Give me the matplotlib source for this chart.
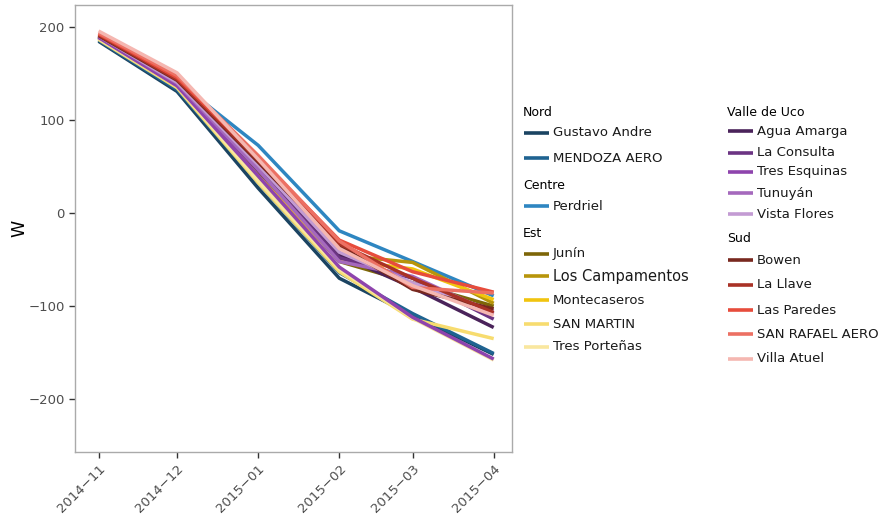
import matplotlib
matplotlib.use("Agg")
import matplotlib.pyplot as plt
from matplotlib.lines import Line2D
import numpy as np
import datetime as dt

months = ["2014-11", "2014-12", "2015-01", "2015-02", "2015-03", "2015-04"]

groups = ["Nord", "Centre", "Est", "Valle de Uco", "Sud"]
stations = {
    "Nord": ["Gustavo Andre", "MENDOZA AERO"],
    "Centre": ["Perdriel"],
    "Est": ["Junín", "Los Campamentos", "Montecaseros", "SAN MARTIN", "Tres Porteñas"],
    "Valle de Uco": ["Agua Amarga", "La Consulta", "Tres Esquinas", "Tunuyán", "Vista Flores"],
    "Sud": ["Bowen", "La Llave", "Las Paredes", "SAN RAFAEL AERO", "Villa Atuel"],
}

gustavo_andre = [185, 131, 27, -70, -110, -152]
mendoza_aero = [186, 133, 33, -64, -108, -151]
perdriel = [189, 142, 73, -19, -52, -89]
junin = [190, 140, 45, -52, -75, -100]
los_campamentos = [189, 141, 50, -45, -53, -97]
montecaseros = [188, 138, 40, -50, -60, -93]
san_martin = [187, 135, 33, -63, -114, -135]
tres_portenas = [188, 137, 35, -60, -113, -158]
agua_amarga = [190, 139, 48, -45, -80, -123]
la_consulta = [190, 139, 46, -48, -70, -114]
tres_esquinas = [189, 137, 40, -58, -112, -157]
tunuyan = [191, 140, 47, -52, -68, -108]
vista_flores = [191, 141, 52, -42, -75, -105]
bowen = [191, 143, 55, -35, -82, -103]
la_llave = [192, 144, 57, -33, -70, -107]
las_paredes = [193, 146, 60, -29, -63, -85]
san_rafael_aero = [194, 148, 62, -30, -80, -86]
villa_atuel = [196, 151, 58, -38, -78, -110]

values = {
    "Gustavo Andre": gustavo_andre, "MENDOZA AERO": mendoza_aero, "Perdriel": perdriel,
    "Junín": junin, "Los Campamentos": los_campamentos, "Montecaseros": montecaseros,
    "SAN MARTIN": san_martin, "Tres Porteñas": tres_portenas,
    "Agua Amarga": agua_amarga, "La Consulta": la_consulta, "Tres Esquinas": tres_esquinas,
    "Tunuyán": tunuyan, "Vista Flores": vista_flores,
    "Bowen": bowen, "La Llave": la_llave, "Las Paredes": las_paredes,
    "SAN RAFAEL AERO": san_rafael_aero, "Villa Atuel": villa_atuel,
}

colors = {
    "Gustavo Andre": "#1b4462", "MENDOZA AERO": "#1f6391", "Perdriel": "#2e86c1",
    "Junín": "#7d6608", "Los Campamentos": "#b7950b", "Montecaseros": "#f1c40f",
    "SAN MARTIN": "#f7dc6f", "Tres Porteñas": "#f9e79f",
    "Agua Amarga": "#4a235a", "La Consulta": "#6c3483", "Tres Esquinas": "#8e44ad",
    "Tunuyán": "#a569bd", "Vista Flores": "#c39bd3",
    "Bowen": "#78281f", "La Llave": "#a93226", "Las Paredes": "#e74c3c",
    "SAN RAFAEL AERO": "#ec7063", "Villa Atuel": "#f5b7b1",
}

dates = [dt.datetime.strptime(m + "-01", "%Y-%m-%d") for m in months]

fig = plt.figure(figsize=(8.91, 5.15), dpi=100)
ax = fig.add_axes([75 / 891, 63 / 515, 437 / 891, 447 / 515])

lines = {}
for g in groups:
    for s in stations[g]:
        (ln,) = ax.plot(dates, values[s], color=colors[s], lw=2.5, solid_capstyle="butt")
        lines[s] = ln

ax.set_ylim(-257, 224)
ax.set_xlim(dates[0] - dt.timedelta(days=9), dates[-1] + dt.timedelta(days=7))
ax.set_yticks([-200, -100, 0, 100, 200])
ax.set_xticks(dates)
ax.set_xticklabels([m.replace("-", "\u2212") for m in months])
for lab in ax.get_xticklabels():
    lab.set_rotation(45)
    lab.set_ha("right")
    lab.set_va("top")
    lab.set_rotation_mode("anchor")
ax.tick_params(axis="both", colors="#333333", labelcolor="#4d4d4d", labelsize=9.5, length=4, width=1)
for sp in ax.spines.values():
    sp.set_color("#aaaaaa")
    sp.set_linewidth(1)
ax.set_ylabel("W", fontsize=12.5, color="#000000")
ax.yaxis.set_label_coords(-47 / 437, 0.5)

# legend (grouped, two columns)
W, H = 891, 515
def px(x, y):
    return x / W, 1 - y / H

layout = {
    "Nord": (523, 112, [133, 158]),
    "Centre": (523, 186, [206]),
    "Est": (523, 234, [254, 276, 300, 324, 347]),
    "Valle de Uco": (727, 112, [131, 153, 172, 193, 214]),
    "Sud": (727, 239, [260, 285, 310, 334, 359]),
}
for g in groups:
    x0, ty, ys = layout[g]
    tx, tyf = px(x0, ty)
    fig.text(tx, tyf, g, fontsize=9, color="#000000", ha="left", va="center")
    for s, y in zip(stations[g], ys):
        a, b = px(x0 + 1, y)
        c, _ = px(x0 + 26, y)
        fig.add_artist(Line2D([a, c], [b, b], transform=fig.transFigure,
                              color=lines[s].get_color(), lw=2.6, solid_capstyle="butt"))
        fs = 10.5 if s == "Los Campamentos" else 9.5
        fig.text(c + 4 / W, b, s, fontsize=fs, color="#1a1a1a", ha="left", va="center")

fig.savefig("out.png", dpi=100)
